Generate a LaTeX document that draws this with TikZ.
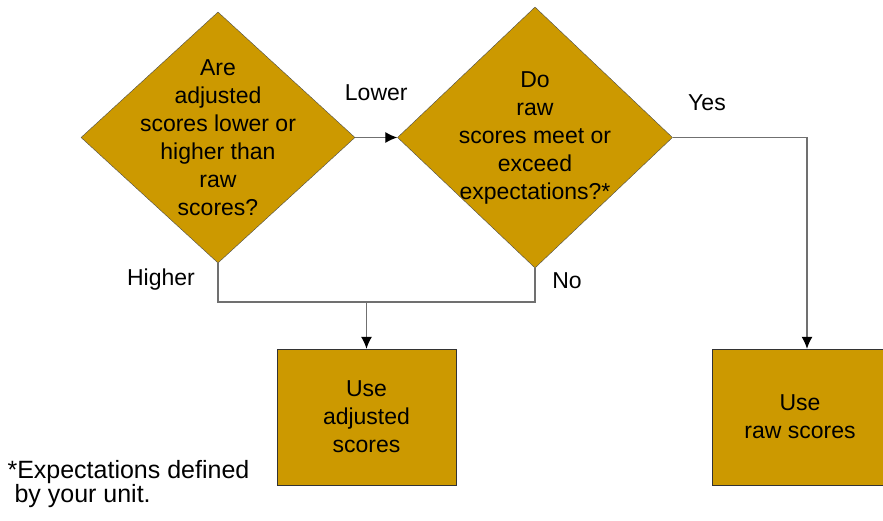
\documentclass[tikz,border=0pt]{standalone}
\usepackage{fontspec}
\setmainfont{Liberation Sans}
\usetikzlibrary{shapes.geometric,arrows.meta}
\definecolor{gold}{HTML}{CC9900}
\definecolor{wire}{HTML}{707070}

\begin{document}
\begin{tikzpicture}[x=1pt,y=-1pt,
    font=\fontsize{23}{28}\selectfont,
    decide/.style={diamond,draw=black!70,fill=gold,inner sep=0pt},
    usebox/.style={rectangle,draw=black!80,fill=gold,inner sep=0pt,minimum height=136pt},
    wireline/.style={draw=wire,line width=1.2pt},
    arr/.style={wireline,-{Latex[length=12pt,width=11pt,black]}}]
  \path[use as bounding box,clip] (0,0) rectangle (883,521);
  %\draw[very thin,lightgray,step=50] (0,0) grid (883,521);
  \node[decide,minimum width=274pt,minimum height=251pt] (q1) at (218,137.5) {};
  \node[decide,minimum width=275pt,minimum height=261pt] (q2) at (535,137.5) {};
  \node[align=center] (q1txt) at (q1) {Are\\adjusted\\scores lower or\\higher than\\raw\\scores?};
  \node[align=center] (q2txt) at (q2) {Do\\raw\\scores meet or\\exceed\\expectations?*};
  \node[usebox,minimum width=179pt] (adj) at (366.5,417) {};
  \node[align=center] (adjtxt) at (adj) {Use\\adjusted\\scores};
  \node[usebox,minimum width=176pt] (raw) at (800,417) {};
  \node[align=center] (rawtxt) at (raw) {Use\\raw scores};
  \coordinate (join) at (366.5,302);
  \draw[arr] (q1.east) -- node[above=33pt] (lower) {Lower} (q2.west);
  \draw[wireline] (q1.south) |- (join) -| (q2.south);
  \draw[arr] (join) -- (adj.north);
  \draw[arr] (q2.east) -| ([xshift=7pt]raw.north);
  \node (yes) at (707,103) {Yes};
  \node (higher) at (161,280) {Higher};
  \node (no) at (567,281) {No};
  \node[anchor=west,align=left,font=\fontsize{25}{24}\selectfont] (note) at (4,484)
    {*Expectations defined\\\hspace*{7pt}by your unit.};
\end{tikzpicture}
\end{document}
